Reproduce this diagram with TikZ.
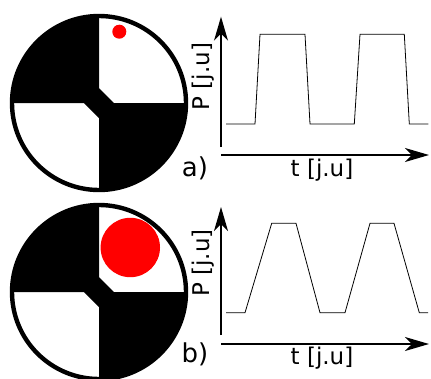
\documentclass[tikz,border=0pt]{standalone}
\usepackage{fontspec}
\setmainfont{DejaVu Sans}
\usetikzlibrary{arrows.meta}
% disk with the two black quadrants, centre given in pt
\newcommand{\quadwheel}[1]{%
  \begin{scope}[shift={#1}]
    \begin{scope}
      \clip (0,0) circle (87);
      \fill[black] (-95,-95) -- (0,-95) -- (0,-15) -- (15,0) -- (95,0) -- (95,95)
        -- (0,95) -- (0,15) -- (-15,0) -- (-95,0) -- cycle;
    \end{scope}
    \draw[ring] (0,0) circle (87);
  \end{scope}}
\begin{document}
\begin{tikzpicture}[x=1pt, y=-1pt,
  ring/.style={line width=4.4pt},
  axis/.style={line width=1.4pt, -{Stealth[length=24pt, width=14pt, inset=7pt]}},
  signal/.style={line width=0.8pt},
  spot/.style={fill=red},
  lbl/.style={font=\fontsize{23}{27}\selectfont, inner sep=0pt},
  tag/.style={font=\fontsize{26}{30}\selectfont, inner sep=0pt},
]
  \useasboundingbox (0,0) rectangle (431,378);
  \clip (0,0) rectangle (431,378);

  % ---- a) small spot, square pulses ----------------------------------------
  \quadwheel{(99,103)}
  \fill[spot] (119.3,31.7) circle (7);
  \coordinate (ya0) at (221,147);
  \coordinate (ya1) at (221,16.7);
  \coordinate (xa0) at (221,155);
  \coordinate (xa1) at (429,155);
  \draw[axis] (ya0) -- (ya1);
  \draw[axis] (xa0) -- (xa1);
  \draw[signal] (226,124) -- (255,124) -- (260,34.3) -- (305,34.3) -- (310,124)
    -- (354.3,124) -- (360,34.3) -- (404.3,34.3) -- (409.3,124) -- (428.3,124);
  \node[lbl, rotate=90] (pa) at (202.7,76.7) {P [j.u]};
  \node[lbl] (ta) at (322,170) {t [j.u]};
  \node[tag] (taga) at (195,168) {a)};

  % ---- b) large spot, trapezoid pulses -------------------------------------
  \quadwheel{(99,292)}
  \fill[spot] (130.3,247.5) circle (29.7);
  \coordinate (yb0) at (221,335);
  \coordinate (yb1) at (221,207);
  \coordinate (xb0) at (221,344);
  \coordinate (xb1) at (429,344);
  \draw[axis] (yb0) -- (yb1);
  \draw[axis] (xb0) -- (xb1);
  \draw[signal] (226,312.7) -- (245,312.7) -- (271.7,223.3) -- (296,223.3) -- (320,312.7)
    -- (345,312.7) -- (370,223.3) -- (394,223.3) -- (419.3,312.7) -- (428,312.7);
  \node[lbl, rotate=90] (pb) at (202.7,263) {P [j.u]};
  \node[lbl] (tb) at (322,358) {t [j.u]};
  \node[tag] (tagb) at (195,354) {b)};
\end{tikzpicture}
\end{document}
